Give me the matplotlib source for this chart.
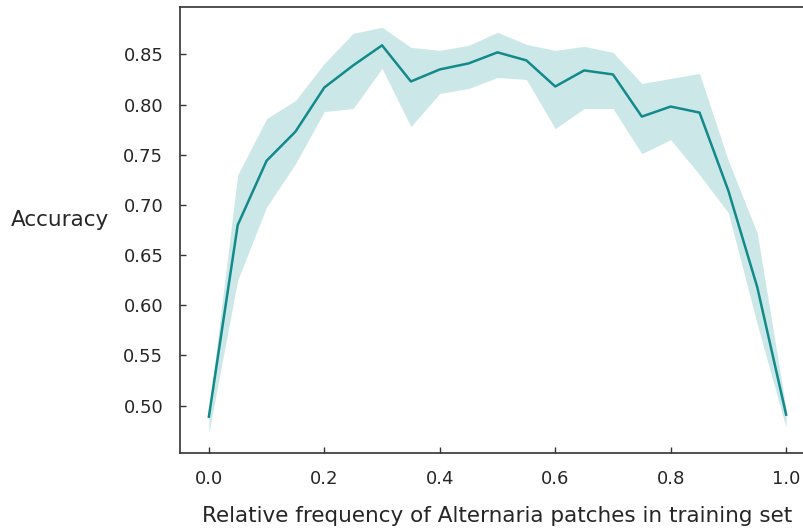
import numpy as np
import matplotlib
matplotlib.use("Agg")
import matplotlib.pyplot as plt

# relative frequency of Alternaria patches in the training set
freq = [0.0, 0.05, 0.1, 0.15, 0.2, 0.25, 0.3, 0.35, 0.4, 0.45, 0.5,
        0.55, 0.6, 0.65, 0.7, 0.75, 0.8, 0.85, 0.9, 0.95, 1.0]

# mean accuracy
acc_mean = [0.489, 0.680, 0.744, 0.773, 0.817, 0.839, 0.859, 0.823, 0.835, 0.841, 0.852,
            0.844, 0.818, 0.834, 0.830, 0.788, 0.798, 0.792, 0.714, 0.618, 0.491]

# confidence band
acc_low = [0.473, 0.625, 0.698, 0.741, 0.793, 0.796, 0.836, 0.778, 0.811, 0.816, 0.827,
           0.825, 0.776, 0.796, 0.796, 0.751, 0.765, 0.730, 0.692, 0.581, 0.478]
acc_high = [0.495, 0.730, 0.786, 0.804, 0.841, 0.871, 0.877, 0.857, 0.854, 0.859, 0.872,
            0.860, 0.854, 0.858, 0.852, 0.821, 0.826, 0.831, 0.744, 0.672, 0.497]

text_col = "#262626"
line_col = "#138a8a"

fig = plt.figure(figsize=(8.04, 5.29), dpi=100)
ax = fig.add_axes([180 / 804, 1 - 453 / 529, 635 / 804, 446 / 529])

ax.fill_between(freq, acc_low, acc_high, color="#008b8b", alpha=0.2, linewidth=0)
ax.plot(freq, acc_mean, color=line_col, linewidth=1.8)

ax.margins(x=0.05, y=0.05)
ax.set_xticks([0.0, 0.2, 0.4, 0.6, 0.8, 1.0])
ax.set_yticks(np.arange(0.50, 0.851, 0.05))

ax.tick_params(direction="in", length=4, width=1, colors="#333333",
               labelcolor=text_col, labelsize=13, pad=12)
for side in ["left", "bottom", "top"]:
    ax.spines[side].set_color("#333333")
    ax.spines[side].set_linewidth(1.2)
ax.spines["right"].set_visible(False)

ax.set_xlabel("Relative frequency of Alternaria patches in training set",
              fontsize=15.5, color=text_col, labelpad=13)
ax.set_ylabel("Accuracy", rotation=0, fontsize=15.5, color=text_col)
ax.yaxis.set_label_coords(-0.189, 0.5)

fig.savefig("out.png", dpi=100)
